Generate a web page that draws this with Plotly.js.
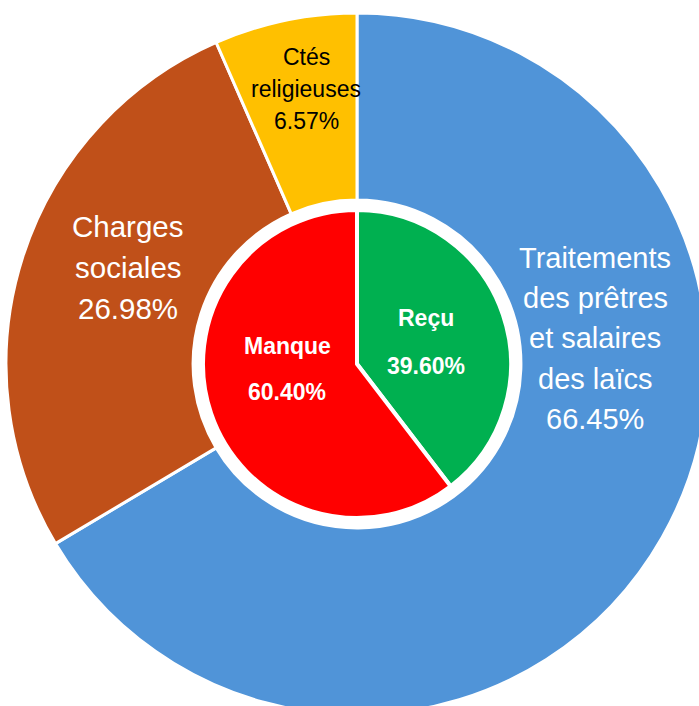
<!DOCTYPE html>
<html>
<head>
<meta charset="utf-8">
<script src="https://cdn.plot.ly/plotly-3.0.1.min.js"></script>
<style>
html,body{margin:0;padding:0;width:699px;height:706px;overflow:hidden;background:#fff;}
#chart{position:absolute;left:6px;top:13px;width:702px;height:702px;}
</style>
</head>
<body>
<div id="chart"></div>
<script>
// Outer ring: expense breakdown
const outerLabels = ["Traitements<br>des prêtres<br>et salaires<br>des laïcs", "Charges<br>sociales", "Ctés<br>religieuses"];
const outerValues = [66.45, 26.98, 6.57];
const outerColors = ["#5094D8", "#C05019", "#FFC000"];
// Inner pie: funding
const innerLabels = ["Reçu", "Manque"];
const innerValues = [39.60, 60.40];
const innerColors = ["#00B050", "#FF0000"];

const W = 702, H = 702, OX = 6, OY = 13;
const px = X => (X - OX) / W;
const py = Y => 1 - (Y - OY) / H;
const FONT = "Liberation Sans Narrow, Arial Narrow, Liberation Sans, Arial, sans-serif";
const pct = v => v.toFixed(2) + "%";

const outer = {
  type: "pie",
  values: outerValues,
  labels: outerLabels,
  marker: {colors: outerColors, line: {color: "#ffffff", width: 3}},
  hole: 0.467,
  sort: false,
  direction: "clockwise",
  rotation: 0,
  textinfo: "none",
  hoverinfo: "none",
  domain: {x: [0, 1], y: [0, 1]}
};
const inner = {
  type: "pie",
  values: innerValues,
  labels: innerLabels,
  marker: {colors: innerColors, line: {color: "#ffffff", width: 4}},
  sort: false,
  direction: "clockwise",
  rotation: 0,
  textinfo: "none",
  hoverinfo: "none",
  domain: {x: [0.2806, 0.7194], y: [0.2806, 0.7194]}
};

// [centerX, firstLineY, lineSpacing, fontSize, color]
const outerPos = [[595, 258, 40.2, 29, "#ffffff"], [128, 226, 41, 29.5, "#ffffff"], [306, 57, 32, 23, "#000000"]];
const annotations = [];
outerLabels.forEach((lab, i) => {
  const p = outerPos[i];
  const lines = (lab + "<br>" + pct(outerValues[i])).split("<br>");
  lines.forEach((ln, k) => {
    annotations.push({
      xref: "paper", yref: "paper", x: px(p[0]), y: py(p[1] + k * p[2]),
      xanchor: "center", yanchor: "middle", showarrow: false,
      text: ln,
      font: {family: FONT, size: p[3], color: p[4]}
    });
  });
});
const innerPos = [[426, 318, 366], [287, 346, 392]];
innerLabels.forEach((lab, i) => {
  const p = innerPos[i];
  annotations.push({
    xref: "paper", yref: "paper", x: px(p[0]), y: py(p[1]),
    xanchor: "center", yanchor: "middle", showarrow: false,
    text: "<b>" + lab + "</b>",
    font: {family: FONT, size: 23, color: "#ffffff"}
  });
  annotations.push({
    xref: "paper", yref: "paper", x: px(p[0]), y: py(p[2]),
    xanchor: "center", yanchor: "middle", showarrow: false,
    text: "<b>" + pct(innerValues[i]) + "</b>",
    font: {family: FONT, size: 23, color: "#ffffff"}
  });
});

Plotly.newPlot("chart", [outer, inner], {
  width: W, height: H,
  margin: {l: 0, r: 0, t: 0, b: 0},
  showlegend: false,
  paper_bgcolor: "rgba(0,0,0,0)",
  plot_bgcolor: "rgba(0,0,0,0)",
  annotations: annotations
}, {staticPlot: true, displayModeBar: false});
</script>
</body>
</html>
